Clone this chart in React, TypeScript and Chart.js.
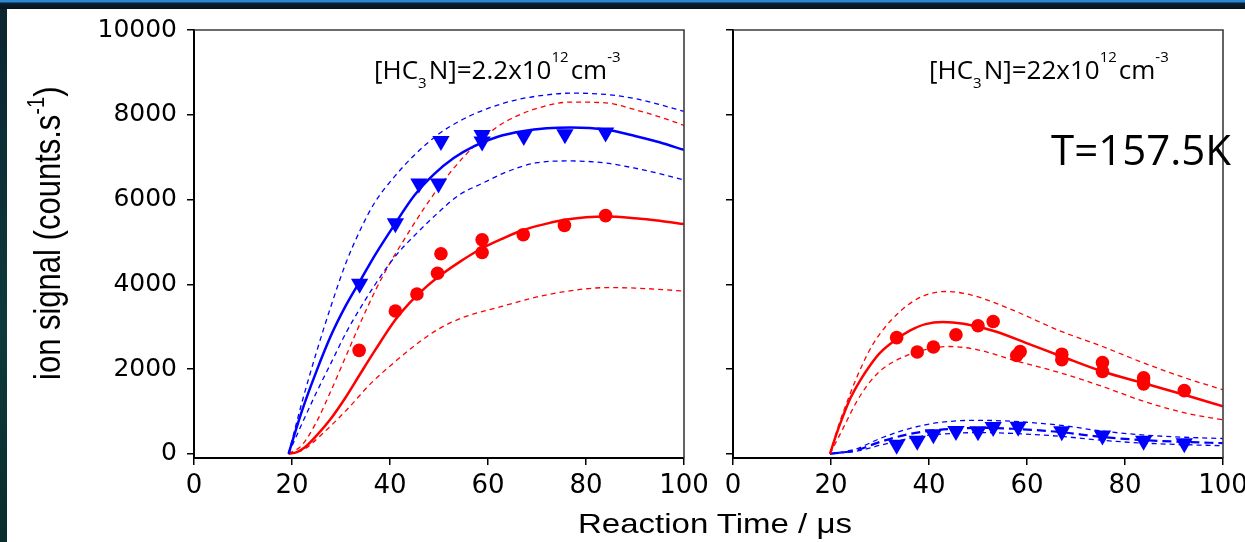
import React, { useEffect, useRef } from "react";
import { Chart, registerables } from "chart.js";
Chart.register(...registerables);

// ---------- tick labels ----------
const X_TICKS = [0, 20, 40, 60, 80, 100];
const Y_TICKS = [0, 2000, 4000, 6000, 8000, 10000];

// ---------- left panel: [HC3N]=2.2x10^12 cm^-3 ----------
const leftBlueObsT = [33.8, 41.1, 45.9, 49.9, 50.4, 58.8, 58.8, 67.3, 75.7, 84.0];
const leftBlueObsY = [4010, 5440, 6380, 6380, 7380, 7370, 7520, 7500, 7540, 7580];
const leftRedObsT = [33.7, 41.1, 45.5, 49.7, 50.4, 58.8, 58.8, 67.2, 75.6, 84.0];
const leftRedObsY = [2440, 3370, 3770, 4260, 4720, 4750, 5050, 5170, 5390, 5620];

const leftBlueFitT = [19.3, 22, 25, 28, 31, 34, 37, 41, 45, 49, 53, 57, 62, 67, 72, 77, 84, 90, 95, 100];
const leftBlueFitY = [0, 1000, 1950, 2800, 3500, 4100, 4700, 5420, 6100, 6600, 6980, 7250, 7480, 7610, 7680, 7700, 7650, 7500, 7350, 7170];
const leftBlueHiT = [19.3, 22, 25, 28, 31, 34, 37, 41, 45, 50, 55, 60, 65, 70, 77, 84, 90, 95, 100];
const leftBlueHiY = [0, 1200, 2400, 3500, 4500, 5300, 5950, 6550, 7050, 7550, 7900, 8150, 8330, 8440, 8510, 8480, 8380, 8240, 8080];
const leftBlueLoT = [19.3, 22, 25, 28, 31, 34, 37, 41, 45, 50.4, 54, 58.8, 64, 70, 77, 84, 90, 95, 100];
const leftBlueLoY = [0, 700, 1450, 2150, 2850, 3450, 4000, 4650, 5150, 5750, 6100, 6380, 6660, 6870, 6910, 6860, 6740, 6610, 6460];

const leftRedFitT = [19.3, 21, 22.5, 25, 28, 31, 34, 37, 41.1, 44, 47.5, 51, 54.3, 58.8, 63, 67.2, 72, 75.6, 80, 84, 90, 95, 100];
const leftRedFitY = [0, 40, 140, 430, 840, 1340, 1900, 2450, 3160, 3560, 3950, 4270, 4535, 4850, 5080, 5280, 5430, 5520, 5580, 5600, 5560, 5500, 5420];
const leftRedHiT = [19.3, 22, 25, 28, 31, 34, 37, 40, 43.4, 47, 51, 55, 59, 63, 70, 77, 84, 90, 95, 100];
const leftRedHiY = [0, 200, 750, 1500, 2300, 3100, 3850, 4500, 5150, 5800, 6450, 7000, 7450, 7800, 8150, 8300, 8280, 8120, 7950, 7750];
const leftRedLoT = [19.3, 22.3, 26, 31.2, 36, 40.7, 45, 50, 55, 62.6, 70, 77, 84, 90, 100];
const leftRedLoY = [0, 94, 450, 1040, 1650, 2140, 2550, 2950, 3220, 3470, 3700, 3850, 3920, 3910, 3840];

// ---------- right panel: [HC3N]=22x10^12 cm^-3 ----------
const rightRedObsT = [33.4, 37.6, 40.9, 45.5, 50.0, 53.1, 57.9, 58.6, 67.1, 67.1, 75.4, 75.4, 83.8, 83.8, 92.1];
const rightRedObsY = [2740, 2400, 2520, 2810, 3020, 3120, 2320, 2410, 2350, 2220, 2150, 1940, 1790, 1650, 1490];
const rightBlueObsT = [33.4, 37.6, 40.9, 45.5, 50.0, 53.1, 58.2, 67.1, 75.4, 83.8, 92.1];
const rightBlueObsY = [210, 310, 460, 540, 530, 630, 640, 530, 430, 310, 250];

const rightRedFitT = [19.8, 21, 22.5, 24, 26, 28, 30, 33.4, 36, 39.3, 42.8, 47.1, 53.6, 59.9, 67.1, 75.4, 83.8, 92.1, 100];
const rightRedFitY = [0, 430, 900, 1320, 1740, 2090, 2380, 2705, 2900, 3060, 3110, 3066, 2885, 2611, 2295, 1941, 1667, 1392, 1120];
const rightRedHiT = [19.8, 21.5, 23.7, 26, 28.7, 33.7, 38.6, 43.6, 48.5, 57, 66.2, 75.4, 83.9, 92.4, 100];
const rightRedHiY = [0, 650, 1352, 2000, 2611, 3318, 3711, 3829, 3750, 3396, 2925, 2531, 2139, 1785, 1510];
const rightRedLoT = [19.8, 21.5, 23, 25, 27.3, 30, 32.9, 38.6, 44.3, 50, 57, 67, 75.4, 83.9, 92.4, 100];
const rightRedLoY = [0, 380, 724, 1180, 1600, 1950, 2180, 2440, 2531, 2453, 2217, 1903, 1588, 1234, 960, 800];

const rightBlueHiT = [19.8, 25, 30, 35, 40, 45, 50, 57, 67, 75, 84, 92, 100];
const rightBlueHiY = [0, 110, 360, 560, 700, 770, 790, 765, 670, 540, 440, 390, 360];
const rightBlueFitT = [19.8, 25, 30, 35, 40, 45, 50, 57, 67, 75, 84, 92, 100];
const rightBlueFitY = [0, 80, 280, 440, 540, 590, 610, 590, 510, 400, 320, 280, 250];
const rightBlueLoT = [19.8, 25, 30, 35, 40, 45, 50, 57, 67, 75, 84, 92, 100];
const rightBlueLoY = [0, 55, 200, 340, 440, 480, 500, 480, 410, 320, 250, 215, 190];

// ---------- text ----------
const Y_TITLE = ["ion signal (counts.s", "-1", ")"];
const X_TITLE = "Reaction Time / \u03bcs";
const ANNOT_LEFT = ["[HC", "3", "N]=2.2x10", "12", "cm", "-3"];
const ANNOT_RIGHT = ["[HC", "3", "N]=22x10", "12", "cm", "-3"];
const TEMP_LABEL = "T=157.5K";

const RED = "#ff0000";
const BLUE = "#0000ff";

function pts(xs: number[], ys: number[]) {
  return xs.map((x, i) => ({ x, y: ys[i] }));
}
function markerSet(xs: number[], ys: number[], color: string, tri: boolean) {
  return {
    data: pts(xs, ys),
    showLine: false,
    pointStyle: tri ? "triangle" : "circle",
    pointRotation: tri ? 180 : 0,
    pointRadius: tri ? 10 : 6.8,
    pointBackgroundColor: color,
    pointBorderColor: color,
    pointBorderWidth: 0,
    backgroundColor: color,
    borderColor: color,
  };
}
function lineSet(xs: number[], ys: number[], color: string, dash: number[], width: number) {
  return {
    data: pts(xs, ys),
    showLine: true,
    borderColor: color,
    backgroundColor: color,
    borderWidth: width,
    borderDash: dash,
    pointRadius: 0,
    cubicInterpolationMode: "monotone",
    fill: false,
  };
}

function richText(ctx: CanvasRenderingContext2D, x: number, y: number, parts: string[], family: string, big: number, small: number) {
  let cx = x;
  parts.forEach((t, i) => {
    const isSub = i === 1;
    const isSup = i === 3 || i === 5;
    const size = isSub || isSup ? small : big;
    ctx.font = `${size}px ${family}`;
    const dy = isSub ? 9 : isSup ? -17 : 0;
    ctx.fillText(t, cx, y + dy);
    cx += ctx.measureText(t).width + (isSub || isSup ? 2 : 0);
  });
}

function makeOptions(opts: { yWidth: number; padRight: number; showYLabels: boolean; draw: (ctx: CanvasRenderingContext2D) => void }) {
  const zeroPad = (s: any) => {
    s.paddingLeft = 0;
    s.paddingRight = 0;
    s.paddingTop = 0;
    s.paddingBottom = 0;
  };
  return {
    type: "scatter",
    options: {
      animation: false,
      responsive: false,
      maintainAspectRatio: false,
      events: [],
      layout: { padding: { top: 30, right: opts.padRight, bottom: 0, left: 0 } },
      plugins: { legend: { display: false }, tooltip: { enabled: false } },
      scales: {
        x: {
          type: "linear",
          min: 0,
          max: 100,
          afterBuildTicks: (s: any) => {
            s.ticks = X_TICKS.map((v) => ({ value: v }));
          },
          afterFit: (s: any) => {
            s.height = 84;
            zeroPad(s);
          },
          ticks: {
            font: { family: "'DejaVu Sans'", size: 26 },
            color: "#000",
            padding: 6,
            maxRotation: 0,
            autoSkip: false,
            callback: (v: any) => String(v),
          },
          grid: { drawOnChartArea: false, drawTicks: true, tickLength: 7, color: "#000", lineWidth: 1.5 },
          border: { display: true, color: "#000", width: 2 },
        },
        y: {
          type: "linear",
          min: -100,
          max: 10000,
          afterBuildTicks: (s: any) => {
            s.ticks = Y_TICKS.map((v) => ({ value: v }));
          },
          afterFit: (s: any) => {
            s.width = opts.yWidth;
            zeroPad(s);
          },
          ticks: {
            display: opts.showYLabels,
            font: { family: "'DejaVu Sans'", size: 25 },
            color: "#000",
            padding: 10,
            callback: (v: any) => String(v),
          },
          grid: { drawOnChartArea: false, drawTicks: true, tickLength: 7, color: "#000", lineWidth: 1.5 },
          border: { display: true, color: "#000", width: 2 },
        },
      },
    },
    plugins: [
      {
        id: "frame",
        afterDraw(chart: any) {
          const { ctx, chartArea: a } = chart;
          ctx.save();
          ctx.strokeStyle = "#3c3c3c";
          ctx.lineWidth = 1.6;
          ctx.beginPath();
          ctx.moveTo(a.left, a.top);
          ctx.lineTo(a.right, a.top);
          ctx.lineTo(a.right, a.bottom);
          ctx.stroke();
          ctx.fillStyle = "#000";
          ctx.textBaseline = "alphabetic";
          ctx.textAlign = "left";
          opts.draw(ctx);
          ctx.restore();
        },
      },
    ],
  };
}

export default function App() {
  const leftRef = useRef<HTMLCanvasElement | null>(null);
  const rightRef = useRef<HTMLCanvasElement | null>(null);

  useEffect(() => {
    document.body.style.margin = "0";
    const leftCfg: any = makeOptions({
      yWidth: 194,
      padRight: 712 - 684,
      showYLabels: true,
      draw: (ctx) => {
        richText(ctx, 374, 79, ANNOT_LEFT, "'Open Sans'", 26, 15);
        // y title (rotated, slightly widened)
        ctx.save();
        ctx.translate(60, 380);
        ctx.scale(1.17, 1);
        ctx.rotate(-Math.PI / 2);
        let cx = 0;
        Y_TITLE.forEach((t, i) => {
          const sup = i === 1;
          ctx.font = `${sup ? 20 : 31}px 'Liberation Sans'`;
          ctx.fillText(t, cx, sup ? -14 : 0);
          cx += ctx.measureText(t).width;
        });
        ctx.restore();
      },
    });
    leftCfg.data = {
      datasets: [
        markerSet(leftBlueObsT, leftBlueObsY, BLUE, true),
        markerSet(leftRedObsT, leftRedObsY, RED, false),
        lineSet(leftBlueFitT, leftBlueFitY, BLUE, [], 2.5),
        lineSet(leftRedFitT, leftRedFitY, RED, [], 2.5),
        lineSet(leftBlueHiT, leftBlueHiY, BLUE, [5, 4], 1.3),
        lineSet(leftBlueLoT, leftBlueLoY, BLUE, [5, 4], 1.3),
        lineSet(leftRedHiT, leftRedHiY, RED, [5, 4], 1.3),
        lineSet(leftRedLoT, leftRedLoY, RED, [5, 4], 1.3),
      ],
    };
    const rightCfg: any = makeOptions({
      yWidth: 33,
      padRight: 545 - (1223 - 700),
      showYLabels: false,
      draw: (ctx) => {
        richText(ctx, 929 - 700, 79, ANNOT_RIGHT, "'Open Sans'", 26, 15);
        ctx.font = "42px 'Open Sans'";
        ctx.fillText(TEMP_LABEL, 1051 - 700, 165);
      },
    });
    rightCfg.data = {
      datasets: [
        markerSet(rightBlueObsT, rightBlueObsY, BLUE, true),
        markerSet(rightRedObsT, rightRedObsY, RED, false),
        lineSet(rightRedFitT, rightRedFitY, RED, [], 2.5),
        lineSet(rightBlueFitT, rightBlueFitY, BLUE, [9, 5], 2.2),
        lineSet(rightRedHiT, rightRedHiY, RED, [5, 4], 1.3),
        lineSet(rightRedLoT, rightRedLoY, RED, [5, 4], 1.3),
        lineSet(rightBlueHiT, rightBlueHiY, BLUE, [5, 4], 1.3),
        lineSet(rightBlueLoT, rightBlueLoY, BLUE, [5, 4], 1.3),
      ],
    };
    const c1 = new Chart(leftRef.current as HTMLCanvasElement, leftCfg);
    const c2 = new Chart(rightRef.current as HTMLCanvasElement, rightCfg);
    return () => {
      c1.destroy();
      c2.destroy();
    };
  }, []);

  return (
    <div style={{ position: "relative", width: 1245, height: 542, overflow: "hidden", background: "#ffffff" }}>
      <div
        style={{
          position: "absolute",
          left: 0,
          top: 0,
          width: 1245,
          height: 9,
          background: "linear-gradient(to bottom, #2b86d4 0px, #2b86d4 2px, #0a2233 3px, #05131c 9px)",
        }}
      />
      <div
        style={{
          position: "absolute",
          left: 0,
          top: 9,
          width: 7,
          height: 533,
          background: "linear-gradient(to bottom, #0b2630, #0d3a3a 60%, #0a2c2c)",
        }}
      />
      <canvas ref={leftRef} width={712} height={542} style={{ position: "absolute", left: 0, top: 0, width: 712, height: 542 }} />
      <canvas ref={rightRef} width={545} height={542} style={{ position: "absolute", left: 700, top: 0, width: 545, height: 542 }} />
      <div
        style={{
          position: "absolute",
          left: 578,
          top: 510,
          fontFamily: "'Liberation Sans'",
          fontSize: 27.5,
          lineHeight: "27.5px",
          color: "#000",
          whiteSpace: "nowrap",
          transform: "scaleX(1.2)",
          transformOrigin: "0 0",
        }}
      >
        {X_TITLE}
      </div>
    </div>
  );
}
